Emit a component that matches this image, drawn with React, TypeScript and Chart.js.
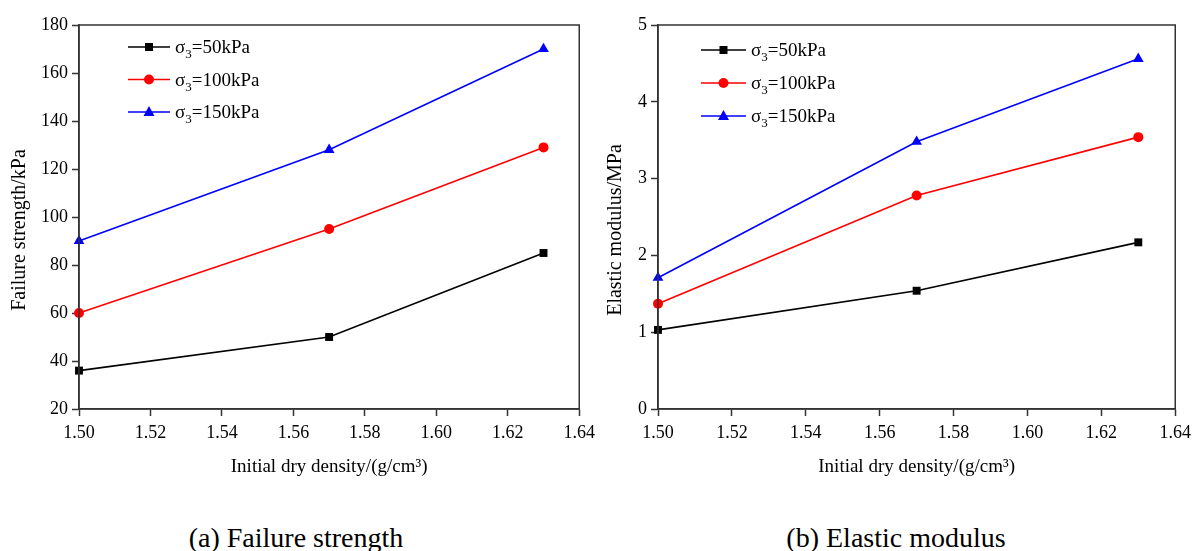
import React, { useEffect, useRef } from "react";
import { Chart, registerables } from "chart.js";

Chart.register(...registerables);

// ---------- data ----------
const densities = [1.5, 1.57, 1.63];
const seriesNames = ["50kPa", "100kPa", "150kPa"];
const seriesColors = ["#000000", "#ff0000", "#0000ff"];
const seriesMarkers = ["rect", "circle", "triangle"];

const strength50 = [36, 50, 85];
const strength100 = [60, 95, 129];
const strength150 = [90, 128, 170];

const modulus50 = [1.03, 1.54, 2.17];
const modulus100 = [1.37, 2.78, 3.54];
const modulus150 = [1.71, 3.48, 4.56];

const xMin = 1.5;
const xMax = 1.64;
const xStep = 0.02;

const FONT = '"Liberation Serif", "Times New Roman", serif';

function drawMarker(ctx: CanvasRenderingContext2D, type: string, x: number, y: number, color: string) {
  ctx.save();
  ctx.fillStyle = color;
  ctx.beginPath();
  if (type === "rect") {
    ctx.rect(x - 4, y - 4, 8, 8);
  } else if (type === "circle") {
    ctx.arc(x, y, 5, 0, Math.PI * 2);
  } else {
    ctx.moveTo(x, y - 6);
    ctx.lineTo(x + 5.5, y + 4);
    ctx.lineTo(x - 5.5, y + 4);
    ctx.closePath();
  }
  ctx.fill();
  ctx.restore();
}

const framePlugin = {
  id: "frame",
  afterDraw(chart: any) {
    const { ctx, chartArea } = chart;
    ctx.save();
    ctx.strokeStyle = "#333333";
    ctx.lineWidth = 1.5;
    ctx.strokeRect(chartArea.left, chartArea.top, chartArea.right - chartArea.left, chartArea.bottom - chartArea.top);
    ctx.restore();
  },
};

const yTitlePlugin = {
  id: "yTitleText",
  afterDraw(chart: any, _args: any, opts: any) {
    const { ctx } = chart;
    ctx.save();
    ctx.translate(opts.x, opts.y);
    ctx.rotate(-Math.PI / 2);
    ctx.fillStyle = "#000";
    ctx.font = `20px ${FONT}`;
    ctx.textAlign = "center";
    ctx.textBaseline = "middle";
    ctx.fillText(opts.text, 0, 0);
    ctx.restore();
  },
};

const legendPlugin = {
  id: "sigmaLegend",
  afterDraw(chart: any, _args: any, opts: any) {
    const { ctx, chartArea } = chart;
    const x0 = chartArea.left + opts.dx;
    ctx.save();
    chart.data.datasets.forEach((ds: any, i: number) => {
      const y = chartArea.top + opts.dy + i * opts.rowGap;
      ctx.strokeStyle = ds.borderColor;
      ctx.lineWidth = 1.6;
      ctx.beginPath();
      ctx.moveTo(x0, y);
      ctx.lineTo(x0 + opts.lineLen, y);
      ctx.stroke();
      drawMarker(ctx, ds.pointStyle, x0 + opts.lineLen / 2, y, ds.borderColor);
      let tx = x0 + opts.lineLen + 5;
      ctx.fillStyle = "#000";
      ctx.textBaseline = "alphabetic";
      ctx.textAlign = "left";
      ctx.font = `19px ${FONT}`;
      const baseY = y + 6;
      ctx.fillText("σ", tx, baseY);
      tx += ctx.measureText("σ").width;
      ctx.font = `13px ${FONT}`;
      ctx.fillText("3", tx, baseY + 5);
      tx += ctx.measureText("3").width;
      ctx.font = `19px ${FONT}`;
      ctx.fillText("=" + seriesNames[i], tx, baseY);
    });
    ctx.restore();
  },
};

function makeDatasets(values: number[][]) {
  return values.map((vals, i) => ({
    label: "σ3=" + seriesNames[i],
    data: densities.map((d, j) => ({ x: d, y: vals[j] })),
    borderColor: seriesColors[i],
    backgroundColor: seriesColors[i],
    borderWidth: 1.6,
    pointStyle: seriesMarkers[i],
    pointRadius: seriesMarkers[i] === "rect" ? 5.6 : seriesMarkers[i] === "circle" ? 5 : 6.2,
    pointBorderWidth: 0,
    tension: 0,
    clip: false as any,
  }));
}

function makeConfig(p: {
  values: number[][];
  yMin: number;
  yMax: number;
  yStep: number;
  yTitle: { text: string; x: number; y: number };
  yWidth: number;
  padRight: number;
  legend: { dx: number; dy: number; rowGap: number; lineLen: number };
}): any {
  return {
    type: "line",
    data: { datasets: makeDatasets(p.values) },
    plugins: [framePlugin, legendPlugin, yTitlePlugin],
    options: {
      animation: false,
      responsive: false,
      devicePixelRatio: 1,
      layout: { padding: { left: 0, right: p.padRight, top: 25, bottom: 0 } },
      plugins: {
        legend: { display: false },
        tooltip: { enabled: false },
        sigmaLegend: p.legend,
        yTitleText: p.yTitle,
      },
      scales: {
        x: {
          type: "linear",
          min: xMin,
          max: xMax,
          afterFit: (s: any) => {
            s.height = 91;
          },
          ticks: {
            stepSize: xStep,
            color: "#000",
            font: { family: FONT, size: 18 },
            padding: 6,
            maxRotation: 0,
            callback: (v: any) => Number(v).toFixed(2),
          },
          grid: {
            drawOnChartArea: false,
            drawTicks: true,
            tickLength: 7,
            tickWidth: 1.5,
            tickColor: "#333333",
          },
          border: { display: true, color: "#333333", width: 1.5 },
          title: {
            display: true,
            text: "Initial dry density/(g/cm³)",
            color: "#000",
            font: { family: FONT, size: 19 },
            padding: { top: 0, bottom: 22 },
          },
        },
        y: {
          type: "linear",
          min: p.yMin,
          max: p.yMax,
          afterFit: (s: any) => {
            s.width = p.yWidth;
          },
          ticks: {
            stepSize: p.yStep,
            color: "#000",
            font: { family: FONT, size: 18 },
            padding: 4,
          },
          grid: {
            drawOnChartArea: false,
            drawTicks: true,
            tickLength: 7,
            tickWidth: 1.5,
            tickColor: "#333333",
          },
          border: { display: true, color: "#333333", width: 1.5 },
          title: { display: false },
        },
      },
    },
  };
}

function ChartPanel({ config, left, width, height }: { config: any; left: number; width: number; height: number }) {
  const ref = useRef<HTMLCanvasElement>(null);
  useEffect(() => {
    const chart = new Chart(ref.current as HTMLCanvasElement, config);
    return () => chart.destroy();
  }, []);
  return (
    <div style={{ position: "absolute", left, top: 0, width, height }}>
      <canvas ref={ref} width={width} height={height} style={{ display: "block" }} />
    </div>
  );
}

export default function App() {
  const leftCfg = makeConfig({
    values: [strength50, strength100, strength150],
    yMin: 20,
    yMax: 180,
    yStep: 20,
    yTitle: { text: "Failure strength/kPa", x: 19.5, y: 230 },
    yWidth: 79,
    padRight: 10,
    legend: { dx: 49, dy: 22, rowGap: 32.5, lineLen: 42 },
  });
  const rightCfg = makeConfig({
    values: [modulus50, modulus100, modulus150],
    yMin: 0,
    yMax: 5,
    yStep: 1,
    yTitle: { text: "Elastic modulus/MPa", x: 15.5, y: 230 },
    yWidth: 58,
    padRight: 10,
    legend: { dx: 43, dy: 25, rowGap: 33, lineLen: 45 },
  });
  const captionStyle: React.CSSProperties = {
    position: "absolute",
    top: 524,
    width: 400,
    textAlign: "center",
    fontFamily: FONT,
    fontSize: 28,
    lineHeight: "28px",
    color: "#000",
    whiteSpace: "nowrap",
  };
  return (
    <div
      style={{
        position: "absolute",
        left: 0,
        top: 0,
        width: 1193,
        height: 551,
        overflow: "hidden",
        background: "#fff",
      }}
    >
      <ChartPanel config={leftCfg} left={0} width={601} height={500} />
      <ChartPanel config={rightCfg} left={600} width={597} height={500} />
      <div style={{ ...captionStyle, left: 296 - 200 }}>(a) Failure strength</div>
      <div style={{ ...captionStyle, left: 896 - 200 }}>(b) Elastic modulus</div>
    </div>
  );
}
